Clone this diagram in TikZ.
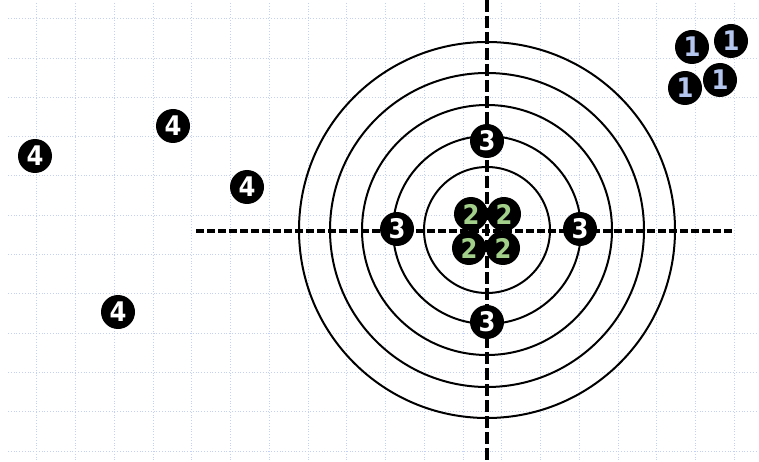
\documentclass[tikz,border=0pt]{standalone}
\usepackage{fontspec}
\newfontfamily\shotfont{DejaVu Sans Condensed}
\usepackage{tikz}
\definecolor{gridblue}{HTML}{C4D0F4}
\definecolor{shotgreen}{HTML}{A2D08A}
\definecolor{shotblue}{HTML}{B4C6EE}

\begin{document}
\begin{tikzpicture}[x=1pt,y=-1pt,
  shot/.style={circle, fill=black, inner sep=0pt, minimum size=34pt, text=white,
    font=\shotfont\bfseries\fontsize{27}{27}\selectfont},
  ring/.style={draw, line width=2pt},
  vaxis/.style={line width=3.2pt, dash pattern=on 12pt off 4pt},
  haxis/.style={line width=3.2pt, dash pattern=on 7.5pt off 3.5pt},
  gridline/.style={gridblue, line width=0.8pt, dash pattern=on 0.8pt off 2pt}
]
\useasboundingbox (0,0) rectangle (759,462);

% Background grid
\foreach \i in {0,...,18}
  \draw[gridline] (36.7+38.75*\i,3) -- (36.7+38.75*\i,462);
\foreach \j in {0,...,11}
  \draw[gridline] (8,18.7+39.3*\j) -- (757,18.7+39.3*\j);

% Target rings
\coordinate (centre) at (487,230);
\foreach \r in {63,94,125,157,188}
  \draw[ring] (centre) circle (\r pt);

% Cross hairs
\draw[vaxis] (487,0) -- (487,462);
\draw[haxis] (196,231) -- (732,231);

% Group 1: top right
\node[shot, text=shotblue] (s1a) at (692,47) {1};
\node[shot, text=shotblue] (s1b) at (731,41) {1};
\node[shot, text=shotblue] (s1c) at (685,88) {1};
\node[shot, text=shotblue] (s1d) at (720,80) {1};

% Group 2: centre
\node[shot, text=shotgreen] (s2a) at (471,214) {2};
\node[shot, text=shotgreen] (s2b) at (504,214) {2};
\node[shot, text=shotgreen] (s2c) at (469,248) {2};
\node[shot, text=shotgreen] (s2d) at (503,248) {2};

% Group 3: on the ring
\node[shot] (s3a) at (487,141) {3};
\node[shot] (s3b) at (397,229) {3};
\node[shot] (s3c) at (580,229) {3};
\node[shot] (s3d) at (487,322) {3};

% Group 4: scattered left
\node[shot] (s4a) at (35,156) {4};
\node[shot] (s4b) at (173,126) {4};
\node[shot] (s4c) at (247,187) {4};
\node[shot] (s4d) at (118,312) {4};
\end{tikzpicture}
\end{document}
